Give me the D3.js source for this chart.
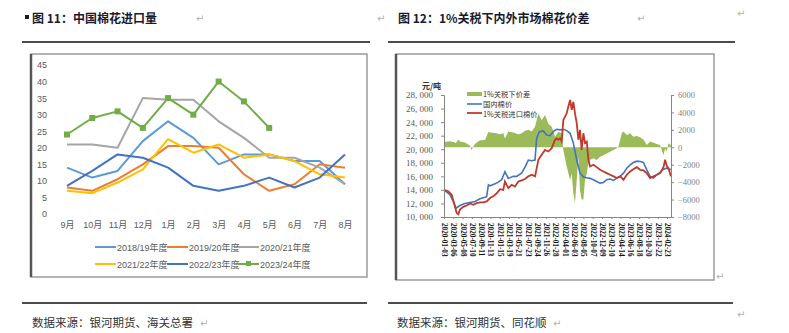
<!DOCTYPE html>
<html>
<head>
<meta charset="utf-8">
<script src="https://cdn.jsdelivr.net/npm/d3@7"></script>
<style>
  body { margin: 0; background: #fff; }
  text { font-family: "Liberation Sans", "Noto Sans CJK SC", sans-serif; }
</style>
</head>
<body>
<svg id="page" width="789" height="333"></svg>
<script>
// ---- fig 11: monthly imports, 10k tons ----
const months = ['9月', '10月', '11月', '12月', '1月', '2月', '3月', '4月', '5月', '6月', '7月', '8月'];
const seasons = ['2018/19年度', '2019/20年度', '2020/21年度', '2021/22年度', '2022/23年度', '2023/24年度'];
const imp1819 = [14, 11, 13, 22, 28, 23, 15, 18, 18, 16, 16, 9];
const imp1920 = [8, 7, 10.5, 15, 20.5, 20.5, 20, 12, 7, 9, 15, 14];
const imp2021 = [21, 21, 20, 35, 34.5, 34.5, 28, 23, 17, 17, 14, 9];
const imp2122 = [7, 6.3, 9.5, 13.5, 22.6, 18.5, 21, 17, 18, 16, 12, 11];
const imp2223 = [8.5, 13, 18, 17, 14, 8.5, 7, 8.5, 11, 8, 11, 18];
const imp2324 = [24, 29, 31, 26, 35, 30, 40, 34, 26];
const seasonColors = ['#5b9bd5', '#ed7d31', '#a5a5a5', '#ffc000', '#4472c4', '#70ad47'];
const leftTicks = d3.range(0, 46, 5);

// ---- fig 12: domestic vs imported price (yuan/ton) and spread ----
const domestic = [
  ['2020-01-03', 14000], ['2020-02-12', 13300], ['2020-03-06', 12300], ['2020-03-24', 11300], ['2020-04-20', 11700],
  ['2020-05-24', 12000], ['2020-06-27', 12150], ['2020-07-31', 12300], ['2020-09-03', 12700], ['2020-10-07', 12900],
  ['2020-10-18', 13000], ['2020-10-30', 14750], ['2020-11-10', 14600], ['2020-12-14', 14900], ['2021-01-05', 15150],
  ['2021-01-28', 15500], ['2021-02-19', 16700], ['2021-03-14', 15700], ['2021-04-17', 16000], ['2021-05-10', 16000],
  ['2021-06-13', 16500], ['2021-07-05', 17350], ['2021-07-28', 18400], ['2021-08-20', 18300], ['2021-09-11', 18400],
  ['2021-09-22', 21600], ['2021-10-10', 22600], ['2021-11-06', 22700], ['2021-11-29', 22100], ['2021-12-22', 22000],
  ['2022-01-13', 22600], ['2022-02-05', 22950], ['2022-02-28', 22850], ['2022-03-22', 22950], ['2022-04-14', 22750],
  ['2022-05-07', 22350], ['2022-05-29', 20900], ['2022-06-21', 18400], ['2022-07-13', 16500], ['2022-08-05', 15900],
  ['2022-08-28', 15800], ['2022-09-19', 15700], ['2022-10-12', 15500], ['2022-11-03', 15250], ['2022-11-26', 15000],
  ['2022-12-19', 15100], ['2023-01-10', 15500], ['2023-02-02', 15600], ['2023-02-25', 15400], ['2023-03-19', 15740],
  ['2023-04-11', 16000], ['2023-05-04', 16470], ['2023-05-26', 17200], ['2023-06-18', 17700], ['2023-07-10', 18040],
  ['2023-08-02', 18240], ['2023-08-25', 18190], ['2023-09-16', 18040], ['2023-10-09', 16960], ['2023-10-31', 16000],
  ['2023-11-23', 15740], ['2023-12-16', 16230], ['2024-01-07', 16570], ['2024-01-30', 17060], ['2024-02-21', 17200],
  ['2024-03-20', 16960]
];
const imported = [
  ['2020-01-03', 14000], ['2020-02-01', 13800], ['2020-02-24', 13300], ['2020-03-17', 11600], ['2020-03-29', 10600],
  ['2020-04-09', 10400], ['2020-04-20', 11100], ['2020-05-13', 11500], ['2020-06-05', 11700], ['2020-06-27', 12000],
  ['2020-07-20', 11800], ['2020-08-11', 12050], ['2020-09-03', 12150], ['2020-09-26', 12150], ['2020-10-18', 12300],
  ['2020-11-10', 12800], ['2020-12-02', 13050], ['2020-12-25', 13500], ['2021-01-17', 14100], ['2021-02-08', 14000],
  ['2021-02-19', 15250], ['2021-03-14', 14270], ['2021-04-06', 14750], ['2021-04-28', 14500], ['2021-05-21', 15250],
  ['2021-06-13', 15400], ['2021-07-05', 15600], ['2021-07-28', 16000], ['2021-08-20', 16230], ['2021-09-11', 16000],
  ['2021-10-04', 18440], ['2021-10-26', 19170], ['2021-11-18', 19900], ['2021-12-10', 19660], ['2022-01-02', 20150],
  ['2022-01-25', 21380], ['2022-02-05', 21600], ['2022-02-16', 21400], ['2022-02-28', 21600], ['2022-03-11', 21130],
  ['2022-03-22', 24300], ['2022-04-14', 25300], ['2022-04-25', 26300], ['2022-05-07', 27270], ['2022-05-18', 25800],
  ['2022-05-29', 27000], ['2022-06-09', 25300], ['2022-06-21', 23800], ['2022-07-02', 21400], ['2022-07-13', 22850],
  ['2022-07-24', 19900], ['2022-08-05', 22360], ['2022-08-16', 20900], ['2022-08-28', 21130], ['2022-09-08', 18440],
  ['2022-09-19', 17460], ['2022-10-12', 17700], ['2022-11-03', 17360], ['2022-11-26', 16960], ['2022-12-19', 16720],
  ['2023-01-10', 16470], ['2023-02-02', 16230], ['2023-02-25', 16000], ['2023-03-19', 15740], ['2023-04-11', 16000],
  ['2023-05-04', 15500], ['2023-05-26', 16230], ['2023-06-18', 16720], ['2023-07-10', 17060], ['2023-08-02', 17360],
  ['2023-08-25', 16960], ['2023-09-16', 16870], ['2023-10-09', 16470], ['2023-10-31', 15740], ['2023-11-23', 16000],
  ['2023-12-16', 16230], ['2024-01-07', 16470], ['2024-01-30', 17360], ['2024-02-10', 18440], ['2024-02-21', 17550],
  ['2024-03-04', 17200], ['2024-03-20', 16000]
];
const spread = [
  ['2020-01-03', 600], ['2020-02-12', 700], ['2020-03-06', 600], ['2020-03-24', 500], ['2020-04-09', 900],
  ['2020-04-20', 650], ['2020-05-24', 550], ['2020-06-27', 200], ['2020-07-08', -300], ['2020-07-31', 400],
  ['2020-09-03', 800], ['2020-10-07', 850], ['2020-10-30', 1780], ['2020-11-10', 1700], ['2020-12-14', 1650],
  ['2021-01-17', 1500], ['2021-02-08', 1600], ['2021-02-19', 1000], ['2021-03-14', 1800], ['2021-04-17', 1700],
  ['2021-05-21', 1500], ['2021-06-13', 1600], ['2021-07-05', 1900], ['2021-07-28', 2000], ['2021-08-20', 1800],
  ['2021-09-11', 2350], ['2021-10-04', 3870], ['2021-10-26', 3100], ['2021-11-18', 3700], ['2021-12-10', 2730],
  ['2022-01-02', 2350], ['2022-01-25', 1200], ['2022-02-16', 1780], ['2022-03-11', 1600], ['2022-03-22', -300],
  ['2022-04-14', -2200], ['2022-05-07', -3750], ['2022-05-18', -3000], ['2022-05-29', -5300], ['2022-06-09', -6400],
  ['2022-06-21', -3750], ['2022-07-02', -1100], ['2022-07-13', -4900], ['2022-07-24', -6000], ['2022-08-05', -6000],
  ['2022-08-16', -3750], ['2022-08-28', -3000], ['2022-09-08', -1840], ['2022-09-19', -1450], ['2022-10-12', -1260],
  ['2022-11-03', -1450], ['2022-11-26', -1100], ['2022-12-19', -900], ['2023-01-10', -700], ['2023-02-02', -500],
  ['2023-02-25', -300], ['2023-03-19', -100], ['2023-03-31', 100], ['2023-04-11', 840], ['2023-04-22', 1600],
  ['2023-05-04', 1800], ['2023-05-26', 1400], ['2023-06-18', 1600], ['2023-07-10', 1200], ['2023-08-02', 1300],
  ['2023-08-25', 1150], ['2023-09-16', 900], ['2023-10-09', 250], ['2023-10-31', 650], ['2023-11-23', 530],
  ['2023-12-16', 370], ['2024-01-07', 250], ['2024-01-18', -300], ['2024-01-30', -900], ['2024-02-10', -130],
  ['2024-02-21', -500], ['2024-03-04', 450], ['2024-03-20', 250]
];
const dateTicks = ['2020-01-03', '2020-03-06', '2020-05-08', '2020-07-10', '2020-09-11', '2020-11-13', '2021-01-15',
  '2021-03-19', '2021-05-21', '2021-07-23', '2021-09-24', '2021-11-26', '2022-01-28', '2022-04-01', '2022-06-03',
  '2022-08-05', '2022-10-07', '2022-12-09', '2023-02-10', '2023-04-14', '2023-06-16', '2023-08-18', '2023-10-20',
  '2023-12-22', '2024-02-23'];
const priceTicks = d3.range(10000, 28001, 2000);
const spreadTicks = d3.range(-8000, 6001, 2000);
const priceLegend = ['1%关税下价差', '国内棉价', '1%关税进口棉价'];

const parse = d3.timeParse('%Y-%m-%d');
const svg = d3.select('#page');

// ---------- page furniture ----------
function returnMark(x, y) {
  svg.append('text').attr('x', x).attr('y', y)
    .style('font-family', 'DejaVu Sans').style('font-size', '10px').style('fill', '#b0b0b0')
    .text('↵');
}

svg.append('rect').attr('x', 25).attr('y', 15).attr('width', 4).attr('height', 4).style('fill', '#1a1a2e');
svg.append('text').attr('x', 32).attr('y', 23)
  .style('font-family', '"Noto Sans CJK SC"').style('font-weight', 'bold').style('font-size', '12px').style('fill', '#1a1a2e')
  .text('图 11：中国棉花进口量');
svg.append('text').attr('x', 398).attr('y', 23)
  .style('font-family', '"Noto Sans CJK SC"').style('font-weight', 'bold').style('font-size', '12px').style('fill', '#1a1a2e')
  .text('图 12：1%关税下内外市场棉花价差');
returnMark(196, 22);
returnMark(377, 22);
returnMark(637, 22);
returnMark(737, 17);
returnMark(716, 280);
returnMark(737, 318);

[[22, 370, 42], [388, 735, 42], [22, 367, 303], [388, 733, 303]].forEach(([x1, x2, y]) => {
  svg.append('line').attr('x1', x1).attr('x2', x2).attr('y1', y).attr('y2', y)
    .style('stroke', '#111').style('stroke-width', 1.3);
});

svg.append('text').attr('x', 32).attr('y', 327)
  .style('font-family', '"Noto Sans CJK SC"').style('font-size', '11.5px').style('fill', '#333')
  .text('数据来源：银河期货、海关总署');
svg.append('text').attr('x', 397).attr('y', 327)
  .style('font-family', '"Noto Sans CJK SC"').style('font-size', '11.5px').style('fill', '#333')
  .text('数据来源：银河期货、同花顺');
returnMark(200, 327);
returnMark(553, 327);

// chart frames
function frame(x, y, w, h) {
  svg.append('rect').attr('x', x).attr('y', y).attr('width', w).attr('height', h)
    .style('fill', '#fff').style('stroke', '#8c8c8c').style('stroke-width', 1.3);
  svg.append('line').attr('x1', x).attr('x2', x).attr('y1', y).attr('y2', y + h)
    .style('stroke', '#555').style('stroke-width', 2.5);
}
frame(31, 54, 336, 223);
frame(396, 54, 318, 226);

// ---------- fig 11 ----------
const xM = d3.scalePoint().domain(months).range([67, 345]);
const yM = d3.scaleLinear().domain([0, 45]).range([214, 65]);

const gl = svg.append('g');
gl.append('g').attr('transform', 'translate(50,0)')
  .call(d3.axisLeft(yM).tickValues(leftTicks).tickSize(0).tickPadding(3))
  .call(g => g.select('.domain').remove())
  .call(g => g.selectAll('text').style('font-size', '9px').style('fill', '#595959').style('font-family', '"Liberation Sans"'));
gl.append('g').attr('transform', 'translate(0,214)')
  .call(d3.axisBottom(xM).tickSize(0).tickPadding(8))
  .call(g => g.select('.domain').remove())
  .call(g => g.selectAll('text').style('font-size', '9px').style('fill', '#595959').style('font-family', '"Liberation Sans", "Noto Sans CJK SC"'));

const series = [imp1819, imp1920, imp2021, imp2122, imp2223, imp2324];
const lineM = d3.line().x((d, i) => xM(months[i])).y(d => yM(d));
series.forEach((s, i) => {
  gl.append('path').datum(s).attr('d', lineM)
    .style('fill', 'none').style('stroke', seasonColors[i]).style('stroke-width', 2)
    .style('stroke-linejoin', 'round');
});
gl.selectAll('.mk').data(imp2324).join('rect').attr('class', 'mk')
  .attr('x', (d, i) => xM(months[i]) - 3).attr('y', d => yM(d) - 3)
  .attr('width', 6).attr('height', 6).style('fill', seasonColors[5]);

// legend, 3 per row
seasons.forEach((name, i) => {
  const lx = [95, 167, 238][i % 3];
  const ly = [247, 264][Math.floor(i / 3)];
  gl.append('line').attr('x1', lx).attr('x2', lx + 21).attr('y1', ly).attr('y2', ly)
    .style('stroke', seasonColors[i]).style('stroke-width', 2);
  if (i === 5) {
    gl.append('rect').attr('x', lx + 8).attr('y', ly - 3).attr('width', 5).attr('height', 5).style('fill', seasonColors[i]);
  }
  gl.append('text').attr('x', lx + 22).attr('y', ly + 3.5)
    .style('font-size', '9px').style('fill', '#595959').text(name);
});

// ---------- fig 12 ----------
const xT = d3.scaleTime().domain([parse('2020-01-03'), parse('2024-03-21')]).range([444, 671]);
const yP = d3.scaleLinear().domain([10000, 28000]).range([217, 95]);
const yS = d3.scaleLinear().domain([-8000, 6000]).range([217, 95]);

const gr = svg.append('g');
const area = d3.area().x(d => xT(parse(d[0]))).y0(yS(0)).y1(d => yS(d[1]));
gr.append('path').datum(spread).attr('d', area).style('fill', '#9bbb59');

const lineP = d3.line().x(d => xT(parse(d[0]))).y(d => yP(d[1]));
gr.append('path').datum(domestic).attr('d', lineP)
  .style('fill', 'none').style('stroke', '#4472c4').style('stroke-width', 1.6);
gr.append('path').datum(imported).attr('d', lineP)
  .style('fill', 'none').style('stroke', '#c0392b').style('stroke-width', 1.8);

const axisStyle = g => {
  g.select('.domain').style('stroke', '#868686');
  g.selectAll('.tick line').style('stroke', '#868686');
};
gr.append('g').attr('transform', 'translate(444,0)')
  .call(d3.axisLeft(yP).tickValues(priceTicks).tickSize(3).tickSizeOuter(3).tickPadding(8)
    .tickFormat(d => d3.format(',')(d).replace(',', ', ')))
  .call(axisStyle)
  .call(g => g.selectAll('text').style('font-family', '"Liberation Serif"').style('font-size', '9px').style('fill', '#595959'));
gr.append('g').attr('transform', 'translate(671,0)')
  .call(d3.axisRight(yS).tickValues(spreadTicks).tickSize(3).tickSizeOuter(3).tickPadding(4).tickFormat(d3.format('d')))
  .call(axisStyle)
  .call(g => g.selectAll('text').style('font-family', '"Liberation Serif"').style('font-size', '8.5px').style('fill', '#7f7f7f'));
gr.append('g').attr('transform', 'translate(0,217)')
  .call(d3.axisBottom(xT).tickValues(dateTicks.map(parse)).tickSize(2).tickSizeOuter(0)
    .tickFormat(d3.timeFormat('%Y-%m-%d')))
  .call(axisStyle)
  .call(g => g.selectAll('text')
    .attr('transform', 'rotate(90)').attr('x', 6).attr('y', 0).attr('dy', '0.35em')
    .style('text-anchor', 'start')
    .style('font-family', '"Liberation Serif"').style('font-weight', 'bold').style('font-size', '7.2px').style('fill', '#111'));

gr.append('text').attr('x', 422).attr('y', 89)
  .style('font-family', '"Noto Sans CJK SC"').style('font-weight', 'bold').style('font-size', '8px').style('fill', '#333')
  .text('元/吨');

// legend
gr.append('rect').attr('x', 467).attr('y', 92).attr('width', 15).attr('height', 4).style('fill', '#9bbb59');
gr.append('line').attr('x1', 467).attr('x2', 482).attr('y1', 104).attr('y2', 104)
  .style('stroke', '#4472c4').style('stroke-width', 1.6);
gr.append('line').attr('x1', 467).attr('x2', 482).attr('y1', 113).attr('y2', 113)
  .style('stroke', '#c0392b').style('stroke-width', 1.8);
priceLegend.forEach((t, i) => {
  gr.append('text').attr('x', 483).attr('y', [96.5, 106.5, 116.5][i])
    .style('font-family', '"Noto Sans CJK SC"').style('font-size', '7.3px').style('fill', '#333').text(t);
});
</script>
</body>
</html>
